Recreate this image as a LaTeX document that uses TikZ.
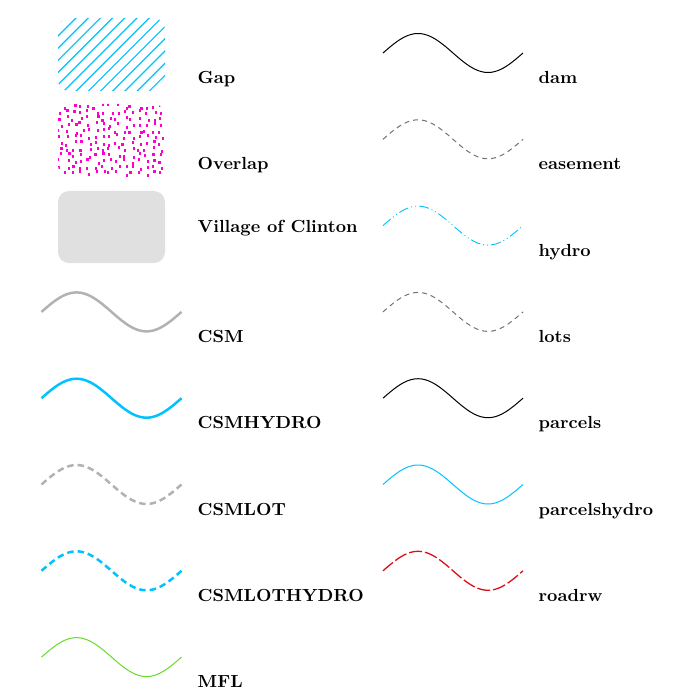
\documentclass[tikz,border=0pt]{standalone}
\usepackage{fontspec}
\usetikzlibrary{positioning}

\newfontfamily\legendfont{lmroman10-bold.otf}[FakeStretch=1.025]

\newlength{\du}
\setlength{\du}{1pt}

\definecolor{hydrocolor}{rgb}{0.000000, 0.760000, 1.000000}
\definecolor{csmgray}{rgb}{0.700000, 0.700000, 0.700000}
\definecolor{lotgray}{rgb}{0.450000, 0.450000, 0.450000}
\definecolor{overlapcolor}{rgb}{1.000000, 0.000000, 0.800000}
\definecolor{villagecolor}{rgb}{0.878000, 0.878000, 0.878000}
\definecolor{mflcolor}{rgb}{0.400000, 0.860000, 0.160000}
\definecolor{roadcolor}{rgb}{0.870000, 0.060000, 0.100000}

% one period of a sine, 140 wide, left end at #1,#2
\newcommand{\legendwave}[3]{%
\draw[#3] plot[smooth, domain=0:360, samples=41] ({(#1+\x/360*140)*\du},{(#2-19.5*sin(\x))*\du});}

\tikzset{
  legendlabel/.style={anchor=base west, inner sep=0pt,
    font=\legendfont\fontsize{17.5}{20}\selectfont},
  thickwave/.style={line width=2.5\du},
  thinwave/.style={line width=1\du},
  csmdash/.style={dash pattern=on 6.5\du off 4\du},
  lotdash/.style={dash pattern=on 5\du off 4\du},
}

\begin{document}
\begin{tikzpicture}
\pgftransformxscale{1.000000}
\pgftransformyscale{-1.000000}
\useasboundingbox (0\du,0\du) rectangle (688\du,692\du);
% Gap
\begin{scope}
\clip[rounded corners=11\du] (58\du,18\du) rectangle (165\du,91\du);
\foreach \k in {-7,...,9}
  \draw[hydrocolor, line width=1.2\du] ({(60+\k*12.2)*\du},95\du) -- ({(60+\k*12.2+80)*\du},15\du);
\end{scope}
\node[legendlabel] (gap) at (197.5\du,83.5\du) {Gap};
% Overlap
\begin{scope}
\clip[rounded corners=11\du] (58\du,104\du) rectangle (165\du,177\du);
\pgfmathsetseed{4711}
\foreach \col in {0,...,14}{
  \foreach \row in {0,...,11}{
    \pgfmathsetmacro{\dotx}{59+\col*7.2+rand*2.6}
    \pgfmathsetmacro{\doty}{105+\row*6.1+rand*2.4}
    \fill[overlapcolor] (\dotx\du,\doty\du) rectangle ({(\dotx+2.2)*\du},{(\doty+3)*\du});
  }
}
\end{scope}
\node[legendlabel] (overlap) at (197.5\du,169.8\du) {Overlap};
% Village of Clinton
\fill[villagecolor, rounded corners=11\du] (58\du,191\du) rectangle (165\du,263\du);
\node[legendlabel] (village) at (197.5\du,233\du) {Village of Clinton};
% left lines
\legendwave{41.5}{311.9}{csmgray, thickwave}
\node[legendlabel] (csm) at (197.5\du,342.4\du) {CSM};
\legendwave{41.5}{398.2}{hydrocolor, thickwave}
\node[legendlabel] (csmhydro) at (197.5\du,428.7\du) {CSMHYDRO};
\legendwave{41.5}{484.5}{csmgray, thickwave, csmdash}
\node[legendlabel] (csmlot) at (197.5\du,515\du) {CSMLOT};
\legendwave{41.5}{570.8}{hydrocolor, thickwave, csmdash}
\node[legendlabel] (csmlothydro) at (197.5\du,601.3\du) {CSMLOTHYDRO};
\legendwave{41.5}{657.1}{mflcolor, thinwave}
\node[legendlabel] (mfl) at (197.5\du,687.6\du) {MFL};
% right lines
\legendwave{383}{53}{black, thinwave}
\node[legendlabel] (dam) at (538.5\du,83.5\du) {dam};
\legendwave{383}{139.3}{lotgray, thinwave, lotdash}
\node[legendlabel] (easement) at (538.5\du,169.8\du) {easement};
\legendwave{383}{225.6}{hydrocolor, line width=0.9\du, dash pattern=on 10\du off 3\du on 1\du off 3\du on 1\du off 3\du}
\node[legendlabel] (hydro) at (538.5\du,256.1\du) {hydro};
\legendwave{383}{311.9}{lotgray, thinwave, lotdash}
\node[legendlabel] (lots) at (538.5\du,342.4\du) {lots};
\legendwave{383}{398.2}{black, thinwave}
\node[legendlabel] (parcels) at (538.5\du,428.7\du) {parcels};
\legendwave{383}{484.5}{hydrocolor, thinwave}
\node[legendlabel] (parcelshydro) at (538.5\du,515\du) {parcelshydro};
\legendwave{383}{570.8}{roadcolor, line width=1.3\du, dash pattern=on 13\du off 3\du}
\node[legendlabel] (roadrw) at (538.5\du,601.3\du) {roadrw};
\end{tikzpicture}
\end{document}
